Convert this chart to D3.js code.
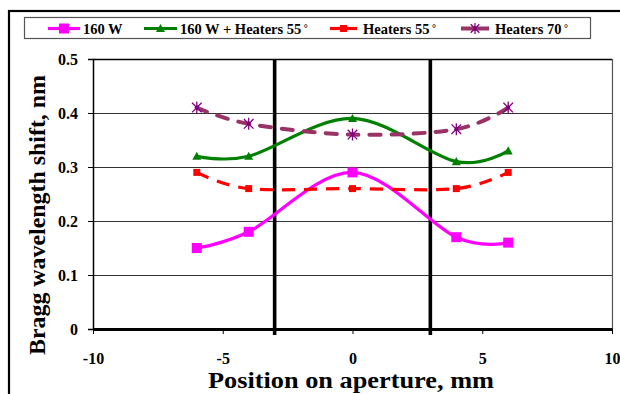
<!DOCTYPE html>
<html>
<head>
<meta charset="utf-8">
<script src="https://cdn.jsdelivr.net/npm/d3@7"></script>
<style>
  html, body { margin: 0; padding: 0; background: #fff; }
</style>
</head>
<body>
<div id="chart"></div>
<script>
// Data
const positions = [-6, -4, 0, 4, 6];
const seriesNames = ['160 W', '160 W + Heaters 55 °', 'Heaters 55 °', 'Heaters 70 °'];
const power160 = [0.15, 0.18, 0.29, 0.17, 0.16];
const powerPlusHeaters55 = [0.32, 0.32, 0.39, 0.31, 0.33];
const heaters55 = [0.29, 0.26, 0.26, 0.26, 0.29];
const heaters70 = [0.41, 0.38, 0.36, 0.37, 0.41];
const apertureEdges = [-3, 3];
const xTicks = [-10, -5, 0, 5, 10];
const yTicks = [0, 0.1, 0.2, 0.3, 0.4, 0.5];

const W = 620, H = 394;
const plot = { left: 93, right: 612, top: 59, bottom: 329 };
const SERIF = '"Liberation Serif", "Times New Roman", serif';

const styles = [
  { color: '#ff00ff', dash: null, marker: 'bigSquare' },
  { color: '#008000', dash: null, marker: 'triangle' },
  { color: '#ff0000', dash: '13,9', marker: 'square' },
  { color: '#993366', dash: '11,11', marker: 'star', markerColor: '#800080' }
];
const seriesValues = [power160, powerPlusHeaters55, heaters55, heaters70];

const svg = d3.select('#chart').append('svg')
  .attr('width', W).attr('height', H);

// outer chart frame (runs off the right / bottom edge like the source)
svg.append('rect')
  .attr('x', 9).attr('y', 11).attr('width', W + 10).attr('height', H + 10)
  .attr('fill', 'none').attr('stroke', '#000').attr('stroke-width', 2.2);

const x = d3.scaleLinear().domain([-10, 10]).range([plot.left, plot.right]);
const y = d3.scaleLinear().domain([0, 0.5]).range([plot.bottom, plot.top]);

// gridlines
svg.append('g')
  .selectAll('line')
  .data(yTicks.filter(v => v > 0))
  .join('line')
  .attr('x1', plot.left).attr('x2', plot.right)
  .attr('y1', d => Math.round(y(d)) + 0.5).attr('y2', d => Math.round(y(d)) + 0.5)
  .attr('stroke', d => d === 0.5 ? '#000' : '#333')
  .attr('stroke-width', d => d === 0.5 ? 1.6 : 1);

// right border of plot area
svg.append('line')
  .attr('x1', plot.right + 0.5).attr('x2', plot.right + 0.5)
  .attr('y1', plot.top).attr('y2', plot.bottom)
  .attr('stroke', '#555').attr('stroke-width', 1.2);

function styleTicks(axisG) {
  axisG.selectAll('text')
    .style('font-family', SERIF).style('font-weight', 'bold')
    .style('font-size', '16px').attr('fill', '#000');
  axisG.selectAll('.tick line').attr('stroke', '#000');
}

// y axis
const yAxis = svg.append('g')
  .attr('transform', `translate(${plot.left},0)`)
  .call(d3.axisLeft(y).tickValues(yTicks).tickSize(5).tickPadding(10)
    .tickFormat(d => d === 0 ? '0' : d3.format('.1f')(d)));
yAxis.select('.domain').attr('stroke', '#000').attr('stroke-width', 1.5);
styleTicks(yAxis);

// x axis (plain hyphen for negatives, as in the source)
const xAxis = svg.append('g')
  .attr('transform', `translate(0,${plot.bottom})`)
  .call(d3.axisBottom(x).tickValues(xTicks).tickSize(5).tickPadding(19).tickSizeOuter(0)
    .tickFormat(d => String(d)));
xAxis.select('.domain').attr('stroke', '#000').attr('stroke-width', 3);
styleTicks(xAxis);

// aperture edge lines
svg.append('g')
  .selectAll('line')
  .data(apertureEdges)
  .join('line')
  .attr('x1', d => x(d)).attr('x2', d => x(d))
  .attr('y1', plot.top).attr('y2', plot.bottom + 6)
  .attr('stroke', '#000').attr('stroke-width', 3.6);

// series
const line = d3.line()
  .x((d, i) => x(positions[i]))
  .y(d => y(d))
  .curve(d3.curveCardinal.tension(0));

function drawMarker(g, kind, color, cx, cy, scale = 1) {
  if (kind === 'bigSquare') {
    const s = 10 * scale;
    g.append('rect').attr('x', cx - s / 2).attr('y', cy - s / 2).attr('width', s).attr('height', s).attr('fill', color);
  } else if (kind === 'square') {
    const s = 7 * scale;
    g.append('rect').attr('x', cx - s / 2).attr('y', cy - s / 2).attr('width', s).attr('height', s).attr('fill', color);
  } else if (kind === 'triangle') {
    const s = 4.5 * scale;
    g.append('path').attr('d', `M${cx},${cy - s}L${cx + s},${cy + s * 0.8}L${cx - s},${cy + s * 0.8}Z`).attr('fill', color);
  } else if (kind === 'star') {
    const r = 6 * scale;
    const d = r * 0.8;
    g.append('path')
      .attr('d', `M${cx},${cy - r}V${cy + r}M${cx - d},${cy - d}L${cx + d},${cy + d}M${cx - d},${cy + d}L${cx + d},${cy - d}`)
      .attr('stroke', color).attr('stroke-width', 1.3).attr('fill', 'none');
    g.append('circle').attr('cx', cx).attr('cy', cy).attr('r', 2).attr('fill', color);
  }
}

seriesValues.forEach((vals, si) => {
  const st = styles[si];
  const g = svg.append('g');
  g.append('path')
    .attr('d', line(vals))
    .attr('fill', 'none')
    .attr('stroke', st.color)
    .attr('stroke-width', si === 3 ? 4 : 3.2)
    .attr('stroke-linecap', si === 3 ? 'round' : 'butt')
    .attr('stroke-dasharray', st.dash);
  vals.forEach((v, i) => drawMarker(g, st.marker, st.markerColor || st.color, x(positions[i]), y(v)));
});

// legend
const legend = svg.append('g');
legend.append('rect')
  .attr('x', 24.5).attr('y', 17.5).attr('width', 566).attr('height', 21)
  .attr('fill', '#fff').attr('stroke', '#555').attr('stroke-width', 1.2);
const legendX = [48, 144, 330, 461];
const legendLen = [32, 33, 27, 28];
seriesNames.forEach((name, si) => {
  const st = styles[si];
  const lx = legendX[si], ly = 28.5;
  legend.append('line')
    .attr('x1', lx).attr('x2', lx + legendLen[si])
    .attr('y1', ly).attr('y2', ly)
    .attr('stroke', st.color).attr('stroke-width', si === 3 ? 4 : 3.2);
  drawMarker(legend, st.marker, st.markerColor || st.color, lx + legendLen[si] / 2, ly, si === 3 ? 0.9 : 1);
  const t = legend.append('text')
    .attr('x', lx + legendLen[si] + (si >= 2 ? 6 : 3)).attr('y', ly + 5)
    .style('font-family', SERIF).style('font-weight', 'bold').style('font-size', '14.5px')
    .attr('fill', '#000');
  const parts = name.split(' °');
  t.append('tspan').text(parts[0]);
  if (parts.length > 1) {
    t.append('tspan').text(' °').style('font-size', '10px').attr('dy', -2);
  }
});

// axis titles
svg.append('text')
  .attr('x', 351).attr('y', 388)
  .attr('text-anchor', 'middle')
  .attr('textLength', 286).attr('lengthAdjust', 'spacingAndGlyphs')
  .style('font-family', SERIF).style('font-weight', 'bold').style('font-size', '23px')
  .attr('fill', '#000')
  .text('Position on aperture, mm');

svg.append('text')
  .attr('transform', 'translate(45,215) rotate(-90)')
  .attr('text-anchor', 'middle')
  .attr('textLength', 280).attr('lengthAdjust', 'spacingAndGlyphs')
  .style('font-family', SERIF).style('font-weight', 'bold').style('font-size', '23px')
  .attr('fill', '#000')
  .text('Bragg wavelength shift, nm');
</script>
</body>
</html>
